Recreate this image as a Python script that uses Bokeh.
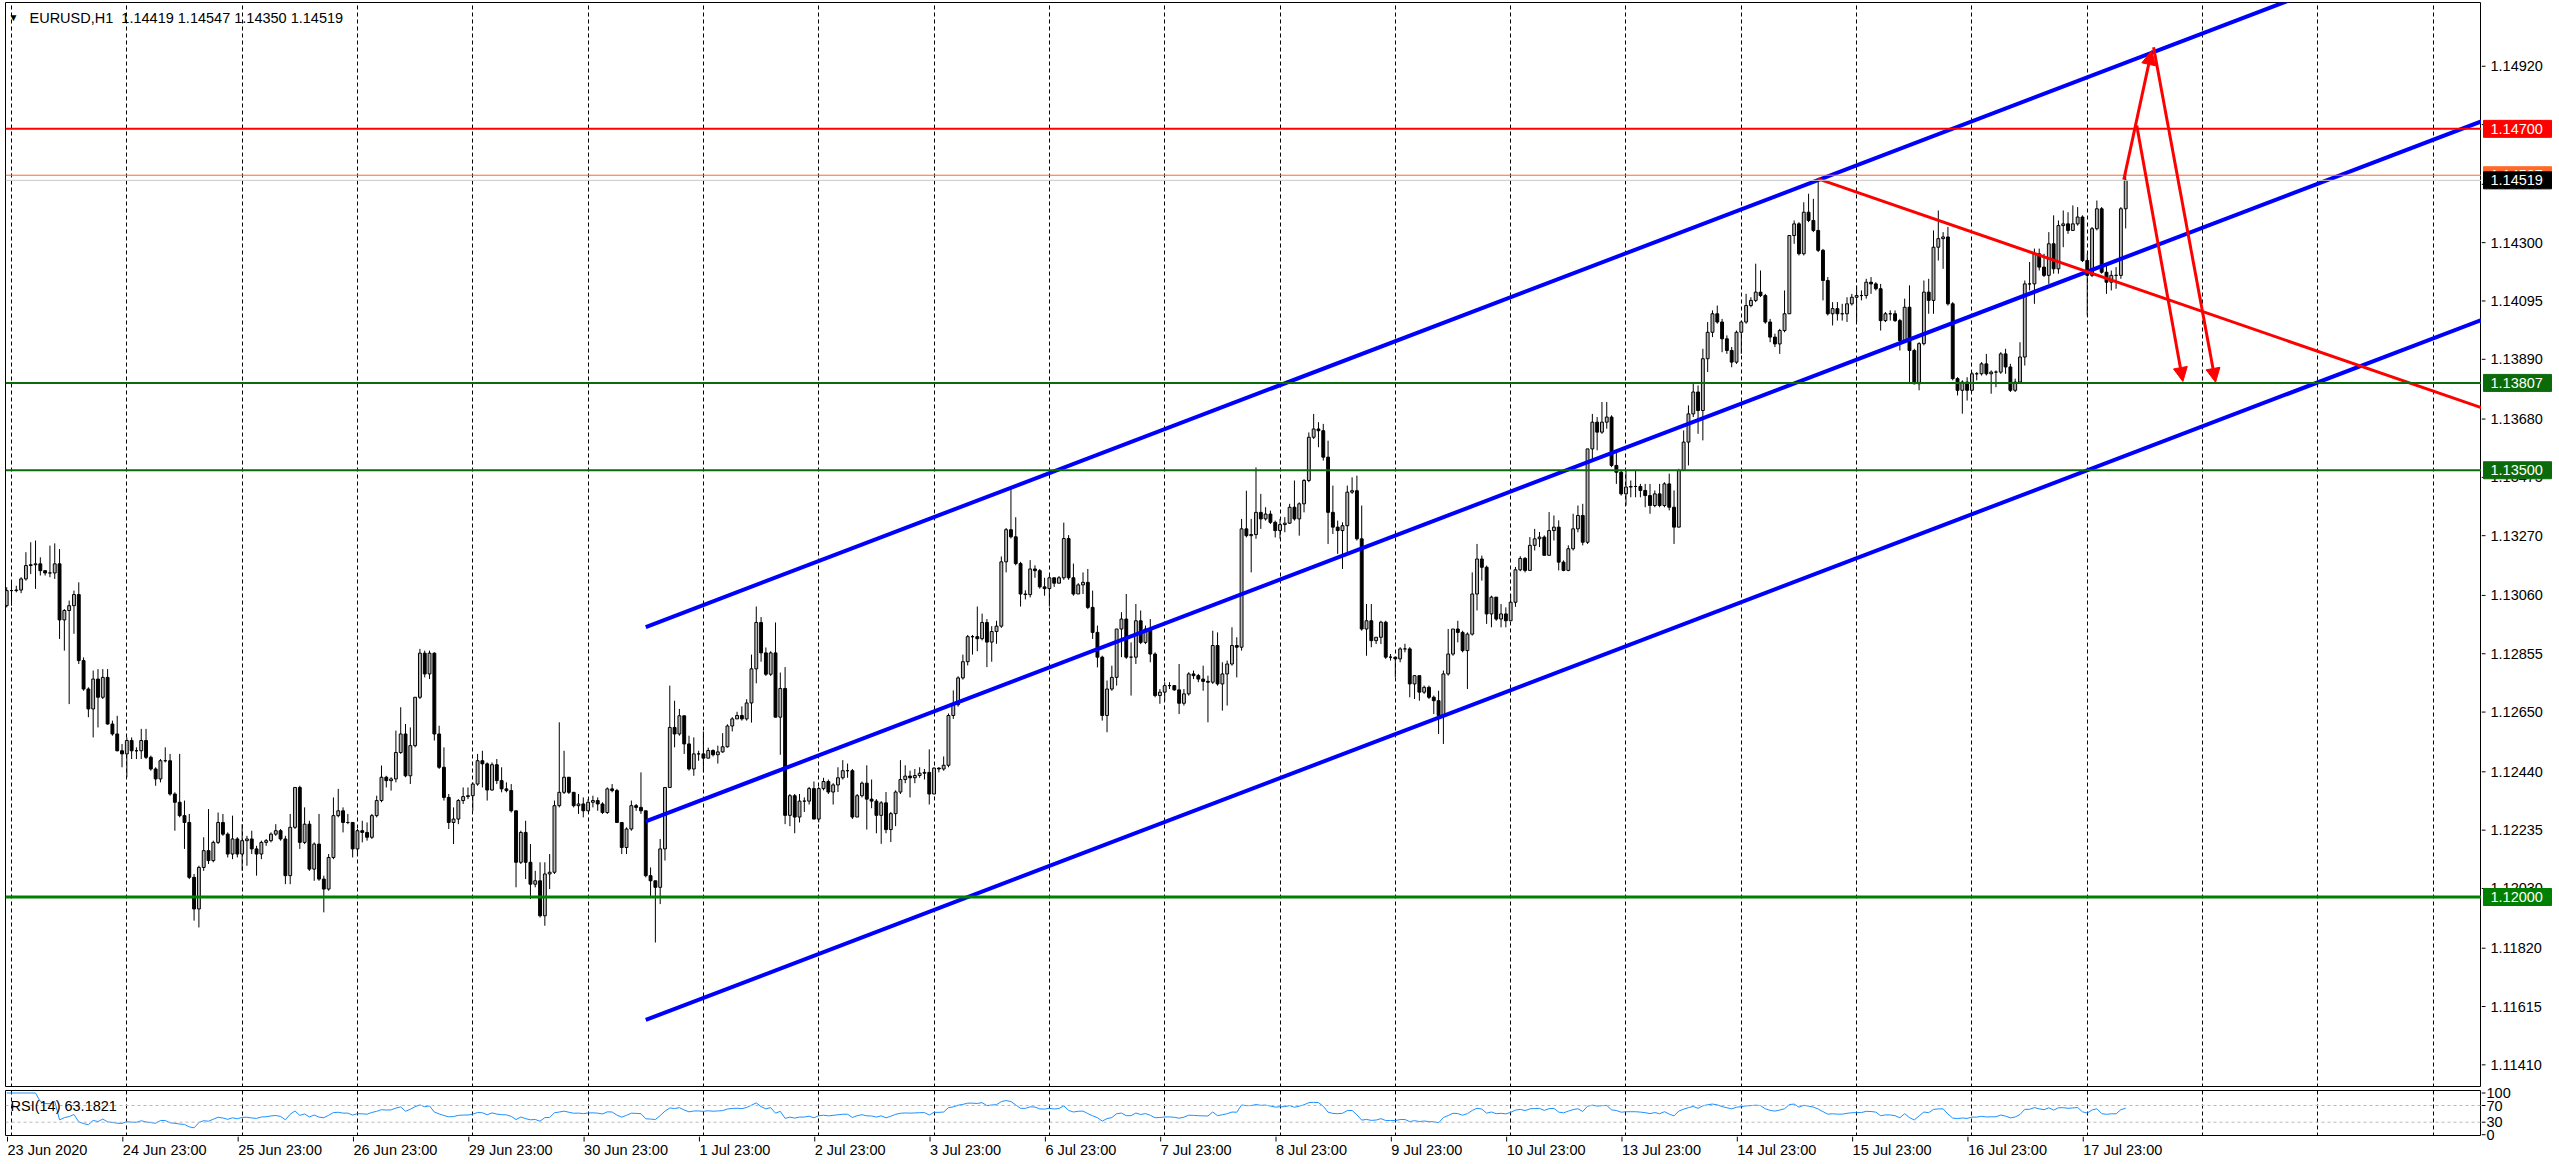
import numpy as np
from datetime import datetime, timedelta
from bokeh.plotting import figure
from bokeh.layouts import column, row
from bokeh.models import (ColumnDataSource, Range1d, FixedTicker, Span, Label, Arrow,
                          NormalHead, Grid)
from bokeh.core.properties import value
from bokeh.embed import file_html
from bokeh.resources import INLINE

# ---------------- data ----------------
SYMBOL_TITLE = "EURUSD,H1\u00a0 1.14419 1.14547 1.14350 1.14519"
RSI_TITLE = "RSI(14) 63.1821"
FIRST_BAR_TIME = datetime(2020, 6, 23, 22)
FIRST_OPEN = 1.13024

CLOSE = [
1.13077,1.13077,1.13079,1.13118,1.13165,1.13168,1.13171,1.13147,1.13139,1.13139,
1.13171,1.12974,1.13007,1.13024,1.13063,1.12831,1.12731,1.12661,1.12766,1.12702,
1.12772,1.12608,1.12573,1.12514,1.12503,1.12550,1.12514,1.12514,1.12550,1.12491,
1.12450,1.12415,1.12479,1.12479,1.12362,1.12333,1.12286,1.12262,1.12069,1.11958,
1.12104,1.12163,1.12128,1.12192,1.12262,1.12221,1.12151,1.12204,1.12151,1.12198,
1.12204,1.12169,1.12151,1.12192,1.12198,1.12221,1.12233,1.12204,1.12075,1.12245,
1.12385,1.12192,1.12256,1.12098,1.12186,1.12063,1.12028,1.12139,1.12286,1.12303,
1.12262,1.12262,1.12169,1.12233,1.12227,1.12210,1.12286,1.12339,1.12421,1.12409,
1.12415,1.12508,1.12573,1.12426,1.12532,1.12702,1.12857,1.12784,1.12857,1.12573,
1.12456,1.12350,1.12262,1.12274,1.12339,1.12353,1.12356,1.12397,1.12479,1.12468,
1.12376,1.12465,1.12409,1.12380,1.12374,1.12303,1.12122,1.12227,1.12122,1.12045,
1.12057,1.11934,1.12081,1.12087,1.12321,1.12368,1.12421,1.12368,1.12321,1.12327,
1.12303,1.12333,1.12339,1.12327,1.12297,1.12380,1.12374,1.12262,1.12174,1.12239,
1.12321,1.12315,1.12303,1.12075,1.12057,1.12034,1.12169,1.12385,1.12596,1.12573,
1.12637,1.12538,1.12450,1.12503,1.12503,1.12488,1.12515,1.12500,1.12510,1.12528,
1.12601,1.12626,1.12638,1.12626,1.12682,1.12802,1.12965,1.12858,1.12783,1.12858,
1.12632,1.12733,1.12287,1.12356,1.12281,1.12337,1.12337,1.12381,1.12274,1.12381,
1.12406,1.12369,1.12394,1.12419,1.12444,1.12444,1.12281,1.12356,1.12400,1.12344,
1.12337,1.12287,1.12331,1.12237,1.12293,1.12369,1.12413,1.12425,1.12419,1.12427,
1.12435,1.12438,1.12362,1.12453,1.12450,1.12463,1.12638,1.12676,1.12770,1.12827,
1.12915,1.12915,1.12908,1.12965,1.12896,1.12933,1.12952,1.13178,1.13291,1.13266,
1.13172,1.13065,1.13063,1.13153,1.13147,1.13090,1.13084,1.13122,1.13103,1.13122,
1.13260,1.13122,1.13065,1.13097,1.13106,1.13018,1.12930,1.12843,1.12638,1.12731,
1.12772,1.12942,1.12977,1.12843,1.12843,1.12971,1.12895,1.12942,1.12854,1.12708,
1.12720,1.12743,1.12743,1.12728,1.12681,1.12714,1.12784,1.12778,1.12766,1.12758,
1.12755,1.12884,1.12749,1.12784,1.12819,1.12884,1.12878,1.13294,1.13270,1.13274,
1.13352,1.13329,1.13346,1.13317,1.13288,1.13309,1.13314,1.13370,1.13329,1.13382,
1.13464,1.13616,1.13645,1.13639,1.13546,1.13352,1.13300,1.13288,1.13305,1.13423,
1.13428,1.13259,1.12942,1.12971,1.12901,1.12913,1.12966,1.12843,1.12843,1.12837,
1.12872,1.12872,1.12749,1.12778,1.12720,1.12737,1.12702,1.12690,1.12638,1.12784,
1.12854,1.12942,1.12930,1.12866,1.12924,1.13065,1.13188,1.13159,1.12995,1.13054,
1.12977,1.12995,1.12971,1.13036,1.13150,1.13190,1.13148,1.13236,1.13259,1.13265,
1.13201,1.13288,1.13300,1.13177,1.13148,1.13224,1.13294,1.13341,1.13247,1.13575,
1.13669,1.13634,1.13669,1.13687,1.13517,1.13493,1.13417,1.13441,1.13443,1.13443,
1.13429,1.13411,1.13376,1.13417,1.13376,1.13452,1.13370,1.13300,1.13499,1.13599,
1.13698,1.13775,1.13710,1.13892,1.13985,1.14050,1.14021,1.13962,1.13921,1.13880,
1.13985,1.14021,1.14079,1.14097,1.14126,1.14114,1.14021,1.13968,1.13944,1.13991,
1.14050,1.14325,1.14366,1.14261,1.14407,1.14378,1.14343,1.14273,1.14167,1.14050,
1.14068,1.14050,1.14050,1.14085,1.14108,1.14114,1.14114,1.14161,1.14155,1.14138,
1.14026,1.14050,1.14050,1.14026,1.13956,1.14073,1.13921,1.13804,1.13945,1.14126,
1.14097,1.14284,1.14314,1.14320,1.14085,1.13822,1.13781,1.13810,1.13781,1.13839,
1.13839,1.13874,1.13839,1.13845,1.13845,1.13909,1.13863,1.13781,1.13810,1.13898,
1.14155,1.14155,1.14261,1.14214,1.14185,1.14296,1.14208,1.14360,1.14366,1.14343,
1.14366,1.14390,1.14237,1.14185,1.14349,1.14419,1.14196,1.14161,1.14185,1.14185,
1.14419,1.14519]

HIGH = [
1.13089,1.13112,1.13094,1.13124,1.13212,1.13247,1.13253,1.13194,1.13147,1.13235,
1.13243,1.13223,1.13012,1.13042,1.13077,1.13106,1.12842,1.12737,1.12796,1.12801,
1.12801,1.12801,1.12620,1.12637,1.12538,1.12561,1.12561,1.12526,1.12591,1.12591,
1.12497,1.12456,1.12485,1.12526,1.12503,1.12368,1.12503,1.12339,1.12292,1.12081,
1.12110,1.12210,1.12309,1.12198,1.12297,1.12292,1.12227,1.12286,1.12210,1.12256,
1.12215,1.12233,1.12180,1.12198,1.12204,1.12227,1.12256,1.12239,1.12215,1.12292,
1.12385,1.12391,1.12315,1.12268,1.12192,1.12292,1.12075,1.12151,1.12350,1.12380,
1.12315,1.12292,1.12262,1.12239,1.12268,1.12262,1.12292,1.12356,1.12462,1.12426,
1.12421,1.12585,1.12667,1.12608,1.12596,1.12702,1.12872,1.12866,1.12866,1.12860,
1.12602,1.12526,1.12362,1.12315,1.12344,1.12385,1.12385,1.12403,1.12503,1.12514,
1.12473,1.12473,1.12485,1.12456,1.12403,1.12397,1.12303,1.12233,1.12268,1.12186,
1.12092,1.12122,1.12122,1.12151,1.12339,1.12614,1.12514,1.12421,1.12350,1.12362,
1.12350,1.12344,1.12356,1.12350,1.12333,1.12385,1.12397,1.12380,1.12262,1.12245,
1.12339,1.12327,1.12438,1.12303,1.12104,1.12051,1.12204,1.12385,1.12743,1.12690,
1.12661,1.12637,1.12567,1.12561,1.12514,1.12582,1.12525,1.12519,1.12532,1.12576,
1.12607,1.12632,1.12651,1.12670,1.12695,1.12852,1.13021,1.12984,1.12877,1.12864,
1.12965,1.12789,1.12808,1.12362,1.12362,1.12362,1.12350,1.12387,1.12406,1.12387,
1.12419,1.12413,1.12400,1.12456,1.12481,1.12469,1.12450,1.12362,1.12406,1.12463,
1.12413,1.12344,1.12337,1.12369,1.12299,1.12375,1.12481,1.12463,1.12444,1.12450,
1.12456,1.12450,1.12519,1.12456,1.12456,1.12494,1.12645,1.12726,1.12776,1.12852,
1.12921,1.12921,1.13021,1.12996,1.12977,1.12952,1.12971,1.13197,1.13297,1.13435,
1.13335,1.13178,1.13078,1.13184,1.13166,1.13153,1.13122,1.13128,1.13109,1.13128,
1.13316,1.13272,1.13172,1.13103,1.13141,1.13153,1.13077,1.12954,1.12848,1.12761,
1.12813,1.12942,1.13001,1.13065,1.12895,1.13030,1.13007,1.12954,1.12977,1.12860,
1.12731,1.12755,1.12755,1.12743,1.12819,1.12731,1.12790,1.12796,1.12784,1.12813,
1.12778,1.12936,1.12930,1.12825,1.12831,1.12948,1.12913,1.13329,1.13428,1.13329,
1.13510,1.13417,1.13370,1.13358,1.13323,1.13329,1.13335,1.13382,1.13464,1.13387,
1.13469,1.13633,1.13698,1.13669,1.13663,1.13604,1.13446,1.13323,1.13317,1.13446,
1.13475,1.13481,1.13376,1.13030,1.13030,1.12913,1.12971,1.12971,1.12854,1.12843,
1.12878,1.12890,1.12878,1.12778,1.12778,1.12743,1.12743,1.12708,1.12725,1.12796,
1.12942,1.12942,1.12971,1.12936,1.12930,1.13141,1.13241,1.13200,1.13165,1.13059,
1.13048,1.13030,1.13018,1.13065,1.13160,1.13198,1.13195,1.13265,1.13294,1.13283,
1.13271,1.13353,1.13341,1.13324,1.13183,1.13236,1.13347,1.13376,1.13382,1.13575,
1.13698,1.13687,1.13740,1.13740,1.13693,1.13569,1.13499,1.13499,1.13464,1.13499,
1.13452,1.13452,1.13452,1.13429,1.13452,1.13458,1.13488,1.13429,1.13505,1.13640,
1.13728,1.13810,1.13798,1.13927,1.14021,1.14062,1.14079,1.14032,1.13974,1.13933,
1.13991,1.14026,1.14120,1.14108,1.14226,1.14202,1.14120,1.14032,1.13980,1.13997,
1.14132,1.14325,1.14378,1.14372,1.14442,1.14472,1.14454,1.14524,1.14278,1.14179,
1.14091,1.14091,1.14085,1.14108,1.14120,1.14149,1.14132,1.14173,1.14179,1.14161,
1.14155,1.14056,1.14062,1.14062,1.14032,1.14103,1.14150,1.13927,1.13950,1.14167,
1.14173,1.14343,1.14413,1.14337,1.14355,1.14091,1.13827,1.13816,1.13827,1.13845,
1.13845,1.13880,1.13909,1.13851,1.13851,1.13915,1.13927,1.13874,1.13822,1.13950,
1.14167,1.14232,1.14279,1.14279,1.14261,1.14337,1.14396,1.14378,1.14413,1.14407,
1.14431,1.14425,1.14396,1.14261,1.14355,1.14448,1.14425,1.14226,1.14202,1.14214,
1.14425,1.14547]

LOW = [
1.13018,1.13024,1.13071,1.13068,1.13112,1.13135,1.13083,1.13130,1.13130,1.13124,
1.13118,1.12907,1.12866,1.12678,1.12925,1.12819,1.12725,1.12632,1.12561,1.12596,
1.12696,1.12606,1.12567,1.12512,1.12456,1.12421,1.12485,1.12485,1.12485,1.12485,
1.12444,1.12391,1.12403,1.12473,1.12356,1.12233,1.12280,1.12169,1.12063,1.11917,
1.11893,1.12092,1.12116,1.12122,1.12186,1.12215,1.12139,1.12133,1.12139,1.12092,
1.12110,1.12151,1.12075,1.12133,1.12180,1.12192,1.12215,1.12198,1.12045,1.12045,
1.12239,1.12169,1.12186,1.12092,1.12057,1.12057,1.11946,1.12022,1.12133,1.12280,
1.12227,1.12256,1.12139,1.12145,1.12192,1.12198,1.12204,1.12280,1.12333,1.12385,
1.12374,1.12403,1.12503,1.12421,1.12397,1.12526,1.12696,1.12772,1.12766,1.12550,
1.12450,1.12339,1.12239,1.12186,1.12256,1.12327,1.12344,1.12303,1.12391,1.12385,
1.12339,1.12374,1.12397,1.12368,1.12368,1.12297,1.12034,1.12116,1.12063,1.11993,
1.12034,1.11928,1.11899,1.12028,1.12081,1.12315,1.12362,1.12362,1.12315,1.12292,
1.12280,1.12303,1.12315,1.12303,1.12292,1.12292,1.12368,1.12262,1.12151,1.12151,
1.12233,1.12303,1.12292,1.12069,1.11999,1.11840,1.11975,1.12128,1.12385,1.12526,
1.12567,1.12503,1.12444,1.12426,1.12479,1.12438,1.12488,1.12494,1.12469,1.12507,
1.12525,1.12582,1.12626,1.12620,1.12620,1.12613,1.12751,1.12827,1.12777,1.12777,
1.12632,1.12500,1.12256,1.12249,1.12224,1.12262,1.12299,1.12325,1.12274,1.12262,
1.12375,1.12362,1.12325,1.12369,1.12413,1.12419,1.12274,1.12281,1.12350,1.12237,
1.12312,1.12224,1.12187,1.12224,1.12193,1.12249,1.12362,1.12400,1.12350,1.12400,
1.12419,1.12413,1.12325,1.12362,1.12438,1.12444,1.12456,1.12626,1.12669,1.12764,
1.12814,1.12852,1.12864,1.12902,1.12808,1.12827,1.12890,1.12946,1.13141,1.13260,
1.13166,1.13021,1.13046,1.13053,1.13122,1.13084,1.13059,1.13021,1.13090,1.13103,
1.13115,1.13115,1.13059,1.13065,1.13065,1.13012,1.12907,1.12807,1.12620,1.12579,
1.12725,1.12743,1.12843,1.12837,1.12708,1.12819,1.12889,1.12889,1.12825,1.12702,
1.12679,1.12690,1.12731,1.12725,1.12643,1.12673,1.12708,1.12766,1.12755,1.12725,
1.12614,1.12749,1.12743,1.12655,1.12673,1.12813,1.12772,1.12866,1.13264,1.13141,
1.13259,1.13294,1.13323,1.13311,1.13264,1.13259,1.13282,1.13311,1.13323,1.13270,
1.13352,1.13458,1.13610,1.13581,1.13534,1.13241,1.13276,1.13206,1.13153,1.13206,
1.13417,1.13253,1.12936,1.12848,1.12878,1.12889,1.12889,1.12837,1.12831,1.12772,
1.12825,1.12860,1.12702,1.12696,1.12690,1.12714,1.12696,1.12643,1.12573,1.12538,
1.12778,1.12848,1.12895,1.12860,1.12731,1.12919,1.13007,1.13112,1.12960,1.12948,
1.12971,1.12948,1.12948,1.12977,1.13020,1.13145,1.13141,1.13148,1.13218,1.13230,
1.13201,1.13218,1.13253,1.13148,1.13145,1.13145,1.13218,1.13282,1.13236,1.13241,
1.13529,1.13570,1.13628,1.13646,1.13511,1.13452,1.13411,1.13376,1.13405,1.13405,
1.13405,1.13370,1.13347,1.13370,1.13370,1.13370,1.13359,1.13241,1.13300,1.13499,
1.13517,1.13687,1.13628,1.13605,1.13845,1.13968,1.14015,1.13915,1.13909,1.13862,
1.13874,1.13909,1.14015,1.14073,1.14091,1.14109,1.14015,1.13950,1.13933,1.13909,
1.13985,1.14050,1.14296,1.14255,1.14255,1.14372,1.14337,1.14267,1.14097,1.14044,
1.14009,1.14026,1.14026,1.14021,1.14079,1.14021,1.14097,1.14103,1.14120,1.14132,
1.13991,1.14021,1.14026,1.14021,1.13921,1.13968,1.13804,1.13802,1.13781,1.13939,
1.14050,1.14050,1.14237,1.14208,1.14079,1.13816,1.13763,1.13699,1.13745,1.13781,
1.13816,1.13833,1.13833,1.13769,1.13792,1.13839,1.13839,1.13775,1.13775,1.13804,
1.13868,1.14132,1.14085,1.14202,1.14179,1.14155,1.14191,1.14191,1.14284,1.14331,
1.14343,1.14360,1.14232,1.14044,1.14179,1.14343,1.14191,1.14120,1.14132,1.14138,
1.14173,1.14350]

PRICE_TICKS = [1.11410, 1.11615, 1.11820, 1.12030, 1.12235, 1.12440, 1.12650, 1.12855,
               1.13060, 1.13270, 1.13475, 1.13680, 1.13890, 1.14095, 1.14300, 1.14505,
               1.14715, 1.14920]
RSI_TICKS = [0, 30, 70, 100]
RSI_LEVELS = [30, 70]

# horizontal levels: price, line colour, line width, price-tag colour
LEVEL_PRICE = [1.14700, 1.14537, 1.14519, 1.13807, 1.13500, 1.12000]
LEVEL_COLOR = ["#ff0000", "#ff6a2a", "#c8c8c8", "#0b6b0b", "#0b6b0b", "#008000"]
LEVEL_WIDTH = [2, 1, 1, 2, 2, 3]
TAG_COLOR = ["#ff0000", "#ff6a2a", "#000000", "#0b6b0b", "#0b6b0b", "#008000"]

# channel lines (bar index, price) start/end
CHANNEL_X = [133, 515]
CHANNEL_UPPER = [1.12949, 1.15409]
CHANNEL_MID = [1.12266, 1.14726]
CHANNEL_LOW = [1.11568, 1.14028]
TREND_X = [377, 515]
TREND_Y = [1.14524, 1.13720]
# red arrows: x_start, y_start, x_end, y_end
ARROWS = [
    (440.6, 1.14521, 446.4, 1.14975),
    (443.3, 1.14712, 452.9, 1.13812),
    (446.8, 1.14987, 459.7, 1.13809),
]

# ---------------- derived ----------------
n = len(CLOSE)
idx = np.arange(n)
O = np.array([FIRST_OPEN] + CLOSE[:-1])
C = np.array(CLOSE)
H = np.maximum(np.array(HIGH), np.maximum(O, C))
L = np.minimum(np.array(LOW), np.minimum(O, C))

times = []
t = FIRST_BAR_TIME
while len(times) < 600:
    if t.weekday() < 5:
        times.append(t)
    t += timedelta(hours=1)

# RSI(14), Wilder smoothing
d = np.diff(C)
g = np.where(d > 0, d, 0.0)
lo = np.where(d < 0, -d, 0.0)
rsi = np.full(n, np.nan)
ag = al = 0.0
for i in range(1, n):
    if i <= 14:
        ag = g[:i].mean(); al = lo[:i].mean()
    else:
        ag = (ag * 13 + g[i - 1]) / 14; al = (al * 13 + lo[i - 1]) / 14
    rsi[i] = 100.0 if al == 0 else 100 - 100 / (1 + ag / al)
rsi[0] = rsi[1]

# ---------------- layout constants ----------------
FONT = "Liberation Sans"
FS = "14.5px"
LEFT_W = 2481          # left column (frame 5..2481)
SIDE_W = 76            # right price scale
BORDER_L = 5
FRAME_W = LEFT_W - BORDER_L
PX_PER_BAR = 4.805
X0 = -0.249
X1 = X0 + FRAME_W / PX_PER_BAR
MAIN_TOP = 2
MAIN_H = 1087           # frame 2..1087
SIDE_MAIN_H = 1080      # right price scale column stops a little above the RSI scale
PX_PER_PRICE = 28450.0
Y1 = 1.12 + (896.5 - MAIN_TOP) / PX_PER_PRICE
Y0 = 1.12 + (896.5 - MAIN_H) / PX_PER_PRICE
YS0 = 1.12 + (896.5 - SIDE_MAIN_H) / PX_PER_PRICE
TICK_SHIFT = -4 / PX_PER_BAR

grid_ticks = [i for i, tt in enumerate(times) if tt.hour == 23 and i < X1]
label_ticks = [i for i in grid_ticks if i < n]
label_text = []
for k, i in enumerate(label_ticks):
    tt = times[i]
    label_text.append(f"{tt.day} {tt:%b} {tt.year}" if k == 0 else f"{tt.day} {tt:%b} 23:00")


def strip_grids(fig):
    fig.center = [r for r in fig.center if not isinstance(r, Grid)]


def day_grid(fig):
    fig.add_layout(Grid(dimension=0, ticker=FixedTicker(ticks=grid_ticks),
                        grid_line_color="#000000", grid_line_dash="4 3", grid_line_width=1))


def bare(fig):
    fig.outline_line_color = None
    fig.background_fill_color = "white"
    fig.border_fill_color = "white"
    strip_grids(fig)


# ---------------- main price panel ----------------
xr = Range1d(X0, X1)
p = figure(width=LEFT_W, height=MAIN_H, x_range=xr, y_range=Range1d(Y0, Y1),
           output_backend="svg", toolbar_location=None, x_axis_location=None,
           y_axis_location=None, min_border_left=BORDER_L, min_border_right=0,
           min_border_top=MAIN_TOP, min_border_bottom=0)
p.outline_line_color = "black"
p.outline_line_width = 1
p.background_fill_color = "white"
p.border_fill_color = "white"
strip_grids(p)
day_grid(p)

src = ColumnDataSource(dict(x=idx, high=H, low=L, top=np.maximum(O, C), bottom=np.minimum(O, C),
                            fill=np.where(C >= O, "#b4b4b4", "#000000")))
p.segment(x0="x", y0="low", x1="x", y1="high", color="black", line_width=1, source=src)
p.vbar(x="x", width=0.6, top="top", bottom="bottom", fill_color="fill",
       line_color="black", line_width=1, source=src)

for price, col, lw in zip(LEVEL_PRICE, LEVEL_COLOR, LEVEL_WIDTH):
    p.add_layout(Span(location=price, dimension="width", line_color=col, line_width=lw))

for ys in (CHANNEL_UPPER, CHANNEL_MID, CHANNEL_LOW):
    p.line(CHANNEL_X, ys, line_color="#0000ff", line_width=4)
p.line(TREND_X, TREND_Y, line_color="#ff0000", line_width=3)

for xs, ys, xe, ye in ARROWS:
    p.add_layout(Arrow(x_start=xs, y_start=ys, x_end=xe, y_end=ye, line_color="#ff0000",
                       line_width=3,
                       end=NormalHead(size=14, fill_color="#ff0000", line_color="#ff0000",
                                      line_width=1)))

p.add_layout(Label(x=X0, y=Y1, x_offset=3, y_offset=-9, text="\u25bc", text_font=FONT,
                   text_font_size="10px", text_baseline="top", text_color="black"))
p.add_layout(Label(x=X0, y=Y1, x_offset=24, y_offset=-7, text=SYMBOL_TITLE, text_font=FONT,
                   text_font_size=FS, text_baseline="top", text_color="black"))

# ---------------- right price scale (ticks, labels, price tags) ----------------
ps = figure(width=SIDE_W, height=SIDE_MAIN_H, x_range=Range1d(0, SIDE_W),
            y_range=Range1d(YS0, Y1),
            output_backend="svg", toolbar_location=None, x_axis_location=None,
            y_axis_location=None, min_border_left=0, min_border_right=0,
            min_border_top=MAIN_TOP, min_border_bottom=0)
bare(ps)
ps.segment(x0=[0] * len(PRICE_TICKS), x1=[4] * len(PRICE_TICKS), y0=PRICE_TICKS,
           y1=PRICE_TICKS, line_color="black", line_width=1)
ps.text(x=[9] * len(PRICE_TICKS), y=PRICE_TICKS, text=[f"{v:.5f}" for v in PRICE_TICKS],
        text_font=value(FONT), text_font_size=value(FS), text_color="black",
        text_align="left", text_baseline="middle")
tag_h = 17 / PX_PER_PRICE
for price, tagc in zip(LEVEL_PRICE, TAG_COLOR):
    ps.quad(left=[2], right=[70], bottom=[price - tag_h / 2], top=[price + tag_h / 2],
            fill_color=tagc, line_color=tagc)
    ps.text(x=[9], y=[price], text=[f"{price:.5f}"], text_font=value(FONT),
            text_font_size=value(FS), text_color="white", text_align="left",
            text_baseline="middle")

# ---------------- RSI panel ----------------
R0, R1 = -4.3, 106
RSI_FRAME_H = 46
RSI_TOP = 3
p2 = figure(width=LEFT_W, height=RSI_FRAME_H + RSI_TOP, x_range=xr, y_range=Range1d(R0, R1),
            output_backend="svg", toolbar_location=None, x_axis_location=None,
            y_axis_location=None, min_border_left=BORDER_L, min_border_right=0,
            min_border_top=RSI_TOP, min_border_bottom=0)
p2.outline_line_color = "black"
p2.background_fill_color = "white"
p2.border_fill_color = "white"
strip_grids(p2)
day_grid(p2)
for lv in RSI_LEVELS:
    p2.add_layout(Span(location=lv, dimension="width", line_color="#b8b8b8",
                       line_dash="3 3", line_width=1))
p2.line(idx, rsi, line_color="#1e90ff", line_width=1)
p2.add_layout(Label(x=X0, y=R1, x_offset=5, y_offset=-7, text=RSI_TITLE, text_font=FONT,
                    text_font_size=FS, text_baseline="top", text_color="black"))

# ---------------- time scale ----------------
TD_H = 26
pd_ = figure(width=LEFT_W, height=TD_H, x_range=xr, y_range=Range1d(0, TD_H),
             output_backend="svg", toolbar_location=None, x_axis_location=None,
             y_axis_location=None, min_border_left=BORDER_L, min_border_right=0,
             min_border_top=0, min_border_bottom=0)
bare(pd_)
tick_x = [i + TICK_SHIFT for i in label_ticks]
pd_.segment(x0=tick_x, x1=tick_x, y0=[TD_H] * len(tick_x), y1=[TD_H - 5] * len(tick_x),
            line_color="black", line_width=1)
pd_.text(x=tick_x, y=[TD_H - 13] * len(tick_x), text=label_text,
         text_font=value(FONT), text_font_size=value(FS), text_color="black",
         text_align="left", text_baseline="middle")

# ---------------- RSI scale (right, spans RSI panel and time row) ----------------
rsi_px = RSI_FRAME_H / (R1 - R0)
total_left_h = MAIN_H + RSI_FRAME_H + RSI_TOP + TD_H
p2s_h = total_left_h - SIDE_MAIN_H
rsi_frame_top = MAIN_H + RSI_TOP            # absolute y of RSI value R1
top_val = R1 + (rsi_frame_top - SIDE_MAIN_H) / rsi_px
bot_val = R1 - (total_left_h - rsi_frame_top) / rsi_px
p2s = figure(width=SIDE_W, height=p2s_h, x_range=Range1d(0, SIDE_W),
             y_range=Range1d(bot_val, top_val),
             output_backend="svg", toolbar_location=None, x_axis_location=None,
             y_axis_location=None, min_border_left=0, min_border_right=0,
             min_border_top=0, min_border_bottom=0)
bare(p2s)
p2s.segment(x0=[0] * len(RSI_TICKS), x1=[4] * len(RSI_TICKS), y0=RSI_TICKS, y1=RSI_TICKS,
            line_color="black", line_width=1)
p2s.text(x=[5] * len(RSI_TICKS), y=RSI_TICKS, text=[str(v) for v in RSI_TICKS],
         text_font=value(FONT), text_font_size=value(FS), text_color="black",
         text_align="left", text_baseline="middle")

layout = row(column(p, p2, pd_), column(ps, p2s))
open("out.html", "w").write(file_html(layout, INLINE))
